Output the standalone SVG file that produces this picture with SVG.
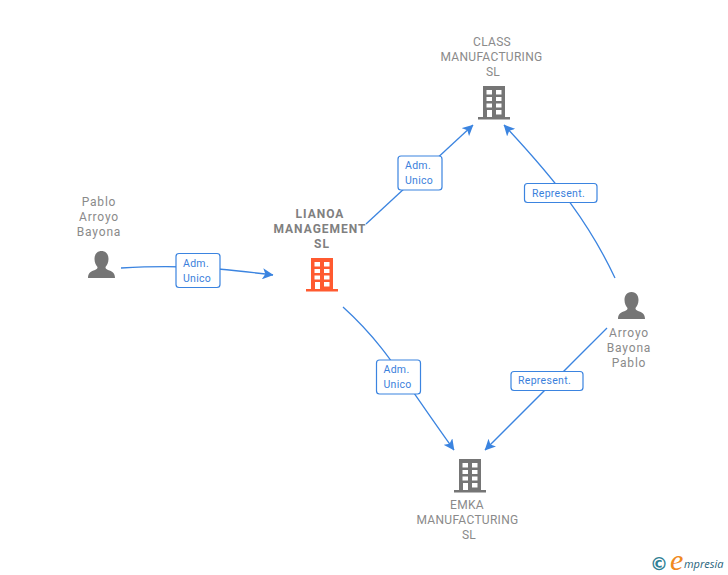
<svg xmlns="http://www.w3.org/2000/svg" width="728" height="575" viewBox="0 0 728 575">
<style>
.lbl{font-family:Roboto,"Liberation Sans",Arial,sans-serif;font-size:12px;fill:#8a8a8a;text-anchor:middle;letter-spacing:.3px}
.b{font-weight:700;fill:#808080;letter-spacing:1px}
.p{letter-spacing:.8px}
.tag{font-family:Roboto,"Liberation Sans",Arial,sans-serif;font-size:10.5px;fill:#3b7fdc;letter-spacing:.3px}
.box{fill:#fff;stroke:#3b84e0;stroke-width:1.2}
.con{fill:none;stroke:#3b84e0;stroke-width:1.3;marker-end:url(#arr)}
</style>
<defs>
<marker id="arr" viewBox="0 0 10 10" refX="9.500" refY="5" markerWidth="11" markerHeight="11" markerUnits="userSpaceOnUse" orient="auto"><path d="M0 0L10 5L0 10L2.500 5Z" fill="#3b84e0"/></marker>
<symbol id="bld" overflow="visible"><path fill-rule="evenodd" d="M5 0H27V31H32V33.500H0V31H5ZM8.500 4V8.500H14V4ZM18 4V8.500H23.500V4ZM8.500 11V15H14V11ZM18 11V15H23.500V11ZM8.500 17.500V21.500H14V17.500ZM18 17.500V21.500H23.500V17.500ZM9 24V31H14V24ZM18 24V28.500H23.500V24Z"/></symbol>
<symbol id="per" overflow="visible"><path d="M13.500 0C18.500 0 20.500 4 20.500 8C20.500 11.500 19 14.500 17.500 16C17.500 17.500 18 18 20 19C24 20.500 27 21.500 27 27H0C0 21.500 3 20.500 7 19C9 18 9.500 17.500 9.500 16C8 14.500 6.500 11.500 6.500 8C6.500 4 8.500 0 13.500 0Z"/></symbol>
</defs>
<rect width="728" height="575" fill="#fff"/>
<g id="connectors">
<path class="con" d="M366 224L473 125"/>
<path class="con" d="M121 268C170 265 200 266 273 275"/>
<path class="con" d="M343 307C385 345 400 375 454 450"/>
<path class="con" d="M615 278C590 225 560 185 504 125"/>
<path class="con" d="M607 328L485 450"/>
</g>
<g id="edge-label-1"><rect class="box" x="398" y="156" width="44" height="34" rx="3"/><text class="tag" x="405" y="169">Adm.</text><text class="tag" x="405" y="184">Unico</text></g>
<g id="edge-label-2"><rect class="box" x="176" y="253.500" width="44" height="34" rx="3"/><text class="tag" x="183" y="267">Adm.</text><text class="tag" x="183" y="282">Unico</text></g>
<g id="edge-label-3"><rect class="box" x="376.500" y="360" width="44" height="34" rx="3"/><text class="tag" x="383.500" y="373">Adm.</text><text class="tag" x="383.500" y="388">Unico</text></g>
<g id="edge-label-4"><rect class="box" x="524.500" y="183.500" width="72.500" height="19" rx="3"/><text class="tag" x="532" y="196.500">Represent.</text></g>
<g id="edge-label-5"><rect class="box" x="511" y="371.500" width="72" height="19" rx="3"/><text class="tag" x="518" y="384">Represent.</text></g>
<g id="class-manufacturing"><text class="lbl" x="492" y="46">CLASS</text><text class="lbl" x="491.500" y="61">MANUFACTURING</text><text class="lbl" x="493" y="76">SL</text><use href="#bld" x="478" y="86" fill="#757575"/></g>
<g id="lianoa-management"><text class="lbl b" x="320" y="218">LIANOA</text><text class="lbl b" x="320" y="233">MANAGEMENT</text><text class="lbl b" x="322" y="248">SL</text><use href="#bld" x="306" y="258" fill="#ff5a30"/></g>
<g id="emka-manufacturing"><text class="lbl" x="467" y="509">EMKA</text><text class="lbl" x="467.500" y="524">MANUFACTURING</text><text class="lbl" x="469" y="539">SL</text><use href="#bld" x="454" y="459" fill="#757575"/></g>
<g id="pablo-arroyo-bayona"><text class="lbl p" x="99" y="206">Pablo</text><text class="lbl p" x="99" y="221">Arroyo</text><text class="lbl p" x="99" y="236">Bayona</text><use href="#per" x="88" y="251" fill="#757575"/></g>
<g id="arroyo-bayona-pablo"><text class="lbl p" x="629" y="337">Arroyo</text><text class="lbl p" x="629" y="352">Bayona</text><text class="lbl p" x="629" y="367">Pablo</text><use href="#per" x="618" y="292" fill="#757575"/></g>
<g id="logo"><text x="650" y="570" font-family="'DejaVu Sans',sans-serif" font-size="18" font-weight="700" fill="#2f7f95">©</text><text x="670" y="570" font-family="'Liberation Serif',serif" font-style="italic" font-size="30" fill="#f08a1d">e</text><text x="684" y="568" font-family="'Open Sans',sans-serif" font-style="italic" font-size="11" fill="#1f5f7a">mpresia</text></g>
</svg>
